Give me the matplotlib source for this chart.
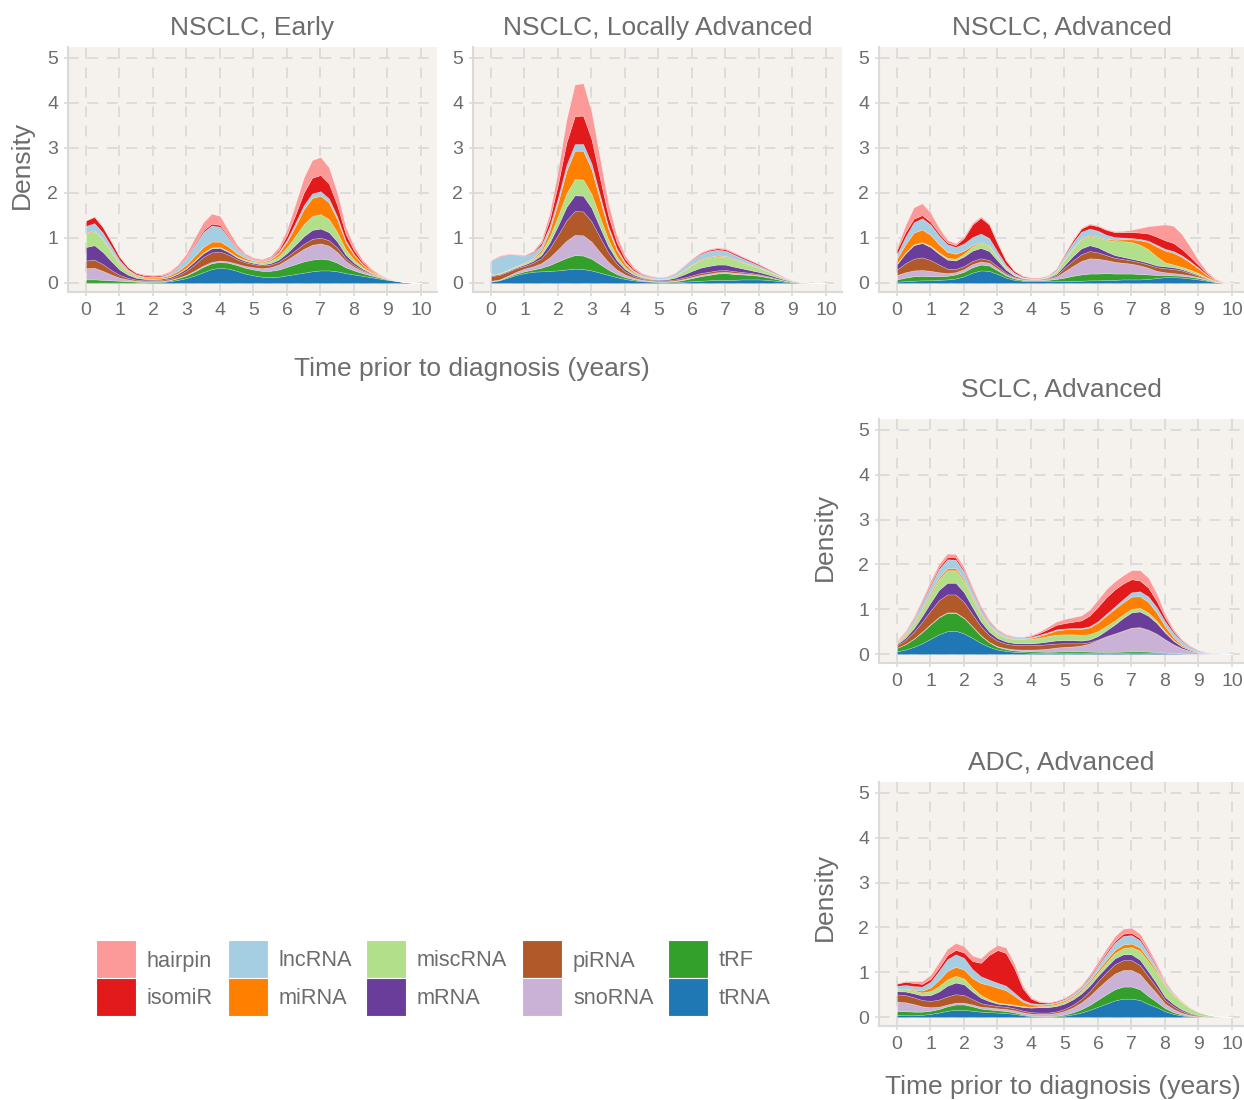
import numpy as np
import matplotlib.pyplot as plt
from matplotlib.patches import Rectangle

# RNA biotypes (legend order) and their fills
categories = ["hairpin", "isomiR", "lncRNA", "miRNA", "miscRNA",
              "mRNA", "piRNA", "snoRNA", "tRF", "tRNA"]
colors = ["#FB9A99", "#E31A1C", "#A6CEE3", "#FF7F00", "#B2DF8A",
          "#6A3D9A", "#B15928", "#CAB2D6", "#33A02C", "#1F78B4"]

# density every 0.25 years, 0..10
years = np.linspace(0, 10, 41)

early = {
    "tRNA":    [0.01,0.01,0.01,0.01,0.01,0.01,0.01,0.01,0.015,0.02,0.04,0.07,0.11,0.17,0.24,0.31,0.34,0.32,0.27,0.21,0.17,0.14,0.13,0.14,0.17,0.2,0.23,0.26,0.28,0.28,0.26,0.22,0.19,0.16,0.13,0.1,0.07,0.045,0.02,0.008,0.002],
    "tRF":     [0.07,0.07,0.06,0.05,0.04,0.03,0.02,0.015,0.015,0.015,0.02,0.04,0.06,0.09,0.12,0.13,0.13,0.13,0.13,0.13,0.13,0.13,0.14,0.16,0.19,0.22,0.25,0.26,0.26,0.24,0.19,0.13,0.09,0.06,0.04,0.025,0.012,0.005,0.002,0.001,0],
    "snoRNA":  [0.25,0.26,0.2,0.13,0.07,0.04,0.02,0.015,0.015,0.01,0.01,0.01,0.015,0.02,0.03,0.03,0.03,0.03,0.03,0.04,0.05,0.06,0.08,0.11,0.16,0.22,0.28,0.33,0.34,0.31,0.24,0.14,0.08,0.045,0.025,0.012,0.005,0.002,0.001,0,0],
    "piRNA":   [0.17,0.18,0.15,0.1,0.06,0.035,0.025,0.02,0.02,0.025,0.03,0.05,0.09,0.14,0.19,0.21,0.2,0.15,0.1,0.08,0.07,0.06,0.06,0.06,0.07,0.09,0.11,0.13,0.13,0.12,0.1,0.06,0.04,0.025,0.015,0.008,0.004,0.002,0.001,0,0],
    "mRNA":    [0.3,0.32,0.27,0.2,0.12,0.07,0.04,0.03,0.025,0.025,0.03,0.04,0.05,0.07,0.08,0.09,0.08,0.06,0.04,0.03,0.025,0.025,0.03,0.05,0.08,0.12,0.17,0.2,0.2,0.18,0.13,0.08,0.05,0.03,0.015,0.008,0.004,0.002,0.001,0,0],
    "miscRNA": [0.3,0.31,0.27,0.2,0.12,0.06,0.03,0.015,0.01,0.01,0.01,0.01,0.015,0.02,0.02,0.02,0.02,0.02,0.02,0.025,0.03,0.035,0.05,0.08,0.13,0.2,0.27,0.31,0.32,0.29,0.21,0.12,0.07,0.04,0.02,0.01,0.004,0.002,0.001,0,0],
    "miRNA":   [0.02,0.02,0.02,0.02,0.02,0.02,0.02,0.02,0.02,0.025,0.035,0.05,0.07,0.1,0.12,0.13,0.12,0.1,0.07,0.04,0.02,0.02,0.03,0.06,0.12,0.22,0.33,0.4,0.41,0.37,0.28,0.16,0.1,0.055,0.03,0.013,0.005,0.002,0.001,0,0],
    "lncRNA":  [0.15,0.16,0.14,0.11,0.07,0.04,0.025,0.02,0.015,0.02,0.04,0.08,0.15,0.24,0.33,0.36,0.33,0.2,0.1,0.05,0.03,0.02,0.02,0.03,0.05,0.07,0.09,0.1,0.1,0.09,0.07,0.04,0.025,0.012,0.006,0.003,0.002,0.001,0,0,0],
    "isomiR":  [0.12,0.14,0.12,0.1,0.07,0.045,0.03,0.025,0.025,0.02,0.015,0.015,0.02,0.03,0.04,0.04,0.04,0.03,0.02,0.01,0.01,0.01,0.015,0.04,0.1,0.18,0.28,0.35,0.36,0.33,0.25,0.14,0.08,0.04,0.02,0.008,0.003,0.001,0,0,0],
    "hairpin": [0.01,0.01,0.01,0.01,0.01,0.01,0.015,0.02,0.02,0.02,0.03,0.05,0.08,0.13,0.18,0.22,0.2,0.13,0.08,0.04,0.03,0.03,0.04,0.07,0.12,0.23,0.33,0.39,0.4,0.36,0.27,0.16,0.09,0.05,0.025,0.012,0.005,0.002,0.001,0,0],
}

local = {
    "tRNA":    [0.03,0.06,0.12,0.18,0.22,0.25,0.26,0.27,0.28,0.3,0.32,0.31,0.28,0.23,0.18,0.13,0.09,0.06,0.04,0.03,0.02,0.02,0.02,0.03,0.04,0.05,0.06,0.07,0.07,0.07,0.08,0.08,0.08,0.07,0.05,0.03,0.015,0.006,0.002,0.001,0],
    "tRF":     [0.01,0.01,0.02,0.03,0.04,0.05,0.08,0.13,0.2,0.26,0.3,0.3,0.26,0.19,0.12,0.07,0.04,0.025,0.015,0.01,0.01,0.01,0.02,0.04,0.07,0.1,0.12,0.14,0.15,0.13,0.11,0.1,0.08,0.06,0.04,0.02,0.01,0.004,0.001,0,0],
    "snoRNA":  [0.01,0.01,0.02,0.04,0.06,0.07,0.1,0.17,0.27,0.38,0.45,0.45,0.38,0.27,0.17,0.1,0.06,0.035,0.02,0.015,0.01,0.01,0.015,0.02,0.025,0.03,0.03,0.03,0.03,0.03,0.025,0.02,0.015,0.01,0.007,0.004,0.002,0.001,0,0,0],
    "piRNA":   [0.1,0.1,0.09,0.08,0.06,0.08,0.11,0.2,0.32,0.45,0.53,0.53,0.45,0.33,0.21,0.13,0.07,0.04,0.025,0.02,0.02,0.02,0.025,0.03,0.035,0.04,0.04,0.04,0.04,0.035,0.03,0.025,0.02,0.015,0.01,0.005,0.002,0.001,0,0,0],
    "mRNA":    [0.02,0.02,0.02,0.02,0.03,0.04,0.07,0.13,0.21,0.3,0.35,0.35,0.3,0.22,0.14,0.08,0.05,0.03,0.02,0.015,0.015,0.02,0.04,0.07,0.1,0.12,0.13,0.13,0.12,0.1,0.08,0.06,0.05,0.04,0.03,0.02,0.01,0.004,0.002,0.001,0],
    "miscRNA": [0.01,0.01,0.015,0.02,0.03,0.04,0.07,0.13,0.21,0.3,0.36,0.36,0.31,0.23,0.15,0.09,0.05,0.03,0.02,0.015,0.015,0.02,0.04,0.08,0.13,0.16,0.18,0.18,0.17,0.15,0.13,0.11,0.09,0.07,0.05,0.03,0.015,0.006,0.002,0.001,0],
    "miRNA":   [0.01,0.01,0.01,0.01,0.015,0.02,0.05,0.14,0.3,0.5,0.63,0.64,0.55,0.39,0.23,0.13,0.07,0.03,0.015,0.01,0.005,0.005,0.008,0.012,0.015,0.02,0.02,0.02,0.02,0.02,0.015,0.012,0.01,0.007,0.005,0.003,0.001,0,0,0,0],
    "lncRNA":  [0.3,0.37,0.33,0.24,0.15,0.12,0.1,0.1,0.11,0.13,0.15,0.15,0.13,0.1,0.07,0.05,0.035,0.03,0.03,0.03,0.03,0.035,0.05,0.08,0.1,0.12,0.13,0.13,0.12,0.1,0.08,0.06,0.045,0.03,0.02,0.01,0.005,0.002,0.001,0,0],
    "isomiR":  [0.01,0.01,0.01,0.01,0.01,0.02,0.05,0.14,0.3,0.5,0.62,0.63,0.54,0.38,0.23,0.13,0.07,0.035,0.015,0.01,0.005,0.005,0.008,0.012,0.015,0.02,0.025,0.03,0.03,0.03,0.03,0.03,0.025,0.02,0.015,0.008,0.003,0.001,0,0,0],
    "hairpin": [0.01,0.01,0.01,0.01,0.01,0.02,0.05,0.14,0.3,0.5,0.7,0.72,0.6,0.44,0.27,0.15,0.08,0.04,0.02,0.01,0.005,0.005,0.008,0.01,0.015,0.02,0.02,0.02,0.02,0.02,0.015,0.012,0.01,0.007,0.005,0.003,0.001,0,0,0,0],
}

advanced = {
    "tRNA":    [0.03,0.04,0.05,0.06,0.06,0.07,0.08,0.1,0.15,0.23,0.28,0.27,0.2,0.12,0.07,0.05,0.04,0.04,0.04,0.04,0.04,0.05,0.05,0.06,0.06,0.07,0.07,0.08,0.08,0.08,0.09,0.11,0.13,0.13,0.12,0.1,0.08,0.05,0.02,0.005,0],
    "tRF":     [0.05,0.08,0.1,0.1,0.09,0.08,0.08,0.09,0.1,0.12,0.13,0.12,0.08,0.05,0.03,0.02,0.02,0.02,0.03,0.05,0.08,0.11,0.14,0.15,0.15,0.15,0.14,0.13,0.13,0.12,0.1,0.07,0.05,0.04,0.04,0.04,0.03,0.02,0.008,0.002,0],
    "snoRNA":  [0.1,0.12,0.13,0.13,0.12,0.09,0.06,0.05,0.06,0.07,0.07,0.06,0.04,0.025,0.015,0.01,0.01,0.01,0.02,0.05,0.14,0.22,0.3,0.34,0.33,0.29,0.26,0.24,0.22,0.19,0.15,0.09,0.06,0.05,0.04,0.03,0.02,0.01,0.004,0.001,0],
    "piRNA":   [0.12,0.2,0.26,0.28,0.24,0.17,0.1,0.07,0.07,0.07,0.07,0.06,0.05,0.03,0.02,0.01,0.01,0.01,0.015,0.03,0.08,0.12,0.15,0.16,0.14,0.11,0.09,0.08,0.07,0.07,0.07,0.08,0.09,0.09,0.08,0.05,0.03,0.015,0.005,0.001,0],
    "mRNA":    [0.12,0.22,0.3,0.32,0.29,0.24,0.2,0.19,0.21,0.23,0.23,0.2,0.13,0.07,0.03,0.015,0.01,0.01,0.015,0.03,0.06,0.1,0.13,0.13,0.11,0.08,0.06,0.05,0.04,0.04,0.04,0.04,0.04,0.04,0.03,0.025,0.02,0.01,0.004,0.001,0],
    "miscRNA": [0.02,0.02,0.02,0.02,0.03,0.03,0.04,0.04,0.06,0.09,0.11,0.1,0.07,0.04,0.02,0.01,0.01,0.01,0.02,0.05,0.12,0.16,0.2,0.2,0.22,0.26,0.31,0.35,0.37,0.35,0.3,0.2,0.09,0.06,0.05,0.05,0.04,0.02,0.008,0.002,0],
    "miRNA":   [0.1,0.18,0.26,0.28,0.24,0.18,0.13,0.11,0.07,0.03,0.02,0.02,0.015,0.01,0.01,0.005,0.005,0.005,0.005,0.01,0.015,0.02,0.02,0.02,0.02,0.02,0.03,0.04,0.06,0.1,0.16,0.22,0.26,0.26,0.22,0.16,0.1,0.05,0.02,0.005,0],
    "lncRNA":  [0.1,0.17,0.23,0.25,0.23,0.2,0.17,0.15,0.16,0.18,0.19,0.17,0.11,0.06,0.03,0.015,0.005,0.005,0.01,0.03,0.08,0.12,0.15,0.15,0.13,0.09,0.06,0.04,0.03,0.03,0.03,0.04,0.04,0.04,0.035,0.03,0.02,0.01,0.004,0.001,0],
    "isomiR":  [0.1,0.1,0.08,0.07,0.06,0.05,0.04,0.04,0.12,0.28,0.35,0.3,0.18,0.09,0.04,0.02,0.01,0.01,0.01,0.02,0.03,0.05,0.07,0.09,0.1,0.11,0.11,0.12,0.13,0.14,0.16,0.18,0.19,0.18,0.14,0.1,0.06,0.03,0.01,0.003,0],
    "hairpin": [0.05,0.15,0.25,0.26,0.2,0.12,0.06,0.04,0.04,0.04,0.03,0.03,0.03,0.02,0.015,0.01,0.005,0.005,0.005,0.01,0.01,0.015,0.02,0.02,0.02,0.02,0.02,0.03,0.05,0.1,0.16,0.25,0.35,0.38,0.33,0.22,0.1,0.04,0.01,0.003,0],
}

sclc = {
    "tRNA":    [0.06,0.1,0.16,0.24,0.34,0.44,0.51,0.52,0.46,0.36,0.25,0.16,0.1,0.07,0.05,0.04,0.03,0.025,0.02,0.02,0.02,0.02,0.02,0.02,0.02,0.02,0.02,0.025,0.03,0.03,0.03,0.025,0.02,0.015,0.01,0.005,0.002,0.001,0,0,0],
    "tRF":     [0.08,0.12,0.18,0.25,0.32,0.38,0.41,0.4,0.34,0.25,0.16,0.1,0.06,0.04,0.03,0.03,0.03,0.03,0.03,0.035,0.04,0.04,0.04,0.035,0.03,0.03,0.03,0.03,0.03,0.03,0.025,0.02,0.015,0.01,0.006,0.003,0.001,0,0,0,0],
    "snoRNA":  [0,0.005,0.005,0.01,0.01,0.01,0.01,0.01,0.01,0.01,0.01,0.01,0.015,0.02,0.025,0.03,0.04,0.05,0.07,0.09,0.1,0.11,0.13,0.18,0.26,0.34,0.4,0.46,0.52,0.53,0.48,0.4,0.29,0.19,0.11,0.06,0.03,0.012,0.005,0.002,0],
    "piRNA":   [0.05,0.09,0.15,0.22,0.3,0.37,0.4,0.4,0.35,0.27,0.2,0.15,0.12,0.1,0.1,0.1,0.1,0.1,0.1,0.09,0.08,0.07,0.05,0.03,0.015,0.01,0.01,0.01,0.01,0.01,0.01,0.01,0.005,0.003,0.002,0.001,0,0,0,0,0],
    "mRNA":    [0.03,0.05,0.08,0.13,0.18,0.23,0.26,0.26,0.22,0.16,0.11,0.08,0.06,0.05,0.04,0.04,0.04,0.05,0.06,0.07,0.07,0.07,0.06,0.06,0.08,0.13,0.2,0.28,0.34,0.35,0.31,0.24,0.15,0.08,0.04,0.02,0.008,0.003,0.001,0,0],
    "miscRNA": [0.03,0.06,0.1,0.14,0.19,0.24,0.28,0.28,0.25,0.2,0.15,0.12,0.1,0.09,0.09,0.09,0.1,0.11,0.12,0.13,0.13,0.13,0.13,0.12,0.11,0.1,0.09,0.08,0.08,0.08,0.07,0.05,0.03,0.015,0.008,0.004,0.002,0.001,0,0,0],
    "miRNA":   [0.01,0.02,0.03,0.035,0.04,0.045,0.045,0.045,0.04,0.035,0.03,0.02,0.015,0.01,0.01,0.01,0.02,0.04,0.06,0.09,0.11,0.12,0.13,0.15,0.19,0.23,0.26,0.27,0.27,0.26,0.24,0.18,0.11,0.06,0.03,0.015,0.006,0.002,0.001,0,0],
    "lncRNA":  [0.02,0.04,0.08,0.12,0.15,0.18,0.2,0.19,0.16,0.12,0.09,0.07,0.05,0.04,0.03,0.025,0.025,0.025,0.025,0.025,0.02,0.02,0.02,0.025,0.03,0.04,0.05,0.07,0.1,0.11,0.12,0.12,0.11,0.1,0.08,0.06,0.035,0.02,0.01,0.005,0.002],
    "isomiR":  [0.01,0.015,0.02,0.03,0.04,0.045,0.05,0.05,0.04,0.035,0.03,0.02,0.015,0.01,0.01,0.01,0.02,0.04,0.07,0.1,0.12,0.14,0.17,0.24,0.32,0.37,0.38,0.35,0.29,0.24,0.2,0.14,0.08,0.04,0.02,0.01,0.004,0.002,0.001,0,0],
    "hairpin": [0.01,0.02,0.03,0.045,0.06,0.07,0.075,0.075,0.065,0.05,0.04,0.03,0.02,0.015,0.01,0.01,0.015,0.03,0.05,0.07,0.09,0.1,0.11,0.13,0.16,0.18,0.18,0.18,0.2,0.23,0.22,0.17,0.08,0.04,0.02,0.01,0.004,0.002,0.001,0,0],
}

adc = {
    "tRNA":    [0.045,0.04,0.04,0.05,0.07,0.1,0.14,0.16,0.16,0.14,0.12,0.11,0.1,0.09,0.07,0.04,0.02,0.01,0.01,0.015,0.03,0.06,0.1,0.16,0.23,0.3,0.37,0.41,0.41,0.38,0.29,0.22,0.13,0.07,0.035,0.015,0.006,0.002,0.001,0,0],
    "tRF":     [0.09,0.09,0.08,0.07,0.07,0.08,0.1,0.12,0.12,0.1,0.07,0.06,0.05,0.045,0.035,0.02,0.01,0.01,0.01,0.015,0.025,0.045,0.075,0.11,0.16,0.21,0.25,0.27,0.27,0.24,0.18,0.12,0.07,0.04,0.02,0.01,0.004,0.001,0,0,0],
    "snoRNA":  [0.21,0.2,0.17,0.12,0.08,0.05,0.04,0.04,0.04,0.04,0.04,0.045,0.045,0.045,0.045,0.045,0.045,0.05,0.05,0.06,0.08,0.11,0.15,0.2,0.26,0.31,0.35,0.37,0.37,0.34,0.27,0.19,0.1,0.07,0.04,0.02,0.01,0.004,0.001,0,0],
    "piRNA":   [0.16,0.16,0.15,0.14,0.14,0.16,0.18,0.19,0.17,0.12,0.08,0.06,0.05,0.05,0.045,0.04,0.035,0.03,0.03,0.035,0.045,0.06,0.08,0.11,0.15,0.18,0.21,0.22,0.22,0.2,0.17,0.13,0.08,0.06,0.04,0.025,0.015,0.008,0.003,0.001,0],
    "mRNA":    [0.07,0.08,0.09,0.1,0.13,0.18,0.24,0.26,0.24,0.17,0.12,0.08,0.055,0.05,0.06,0.08,0.1,0.12,0.12,0.12,0.12,0.12,0.12,0.12,0.12,0.12,0.13,0.13,0.13,0.12,0.11,0.09,0.07,0.05,0.035,0.02,0.01,0.005,0.002,0.001,0],
    "miscRNA": [0.04,0.05,0.06,0.07,0.09,0.12,0.14,0.15,0.13,0.09,0.06,0.04,0.025,0.02,0.02,0.02,0.02,0.025,0.03,0.035,0.04,0.05,0.06,0.07,0.08,0.1,0.12,0.14,0.16,0.2,0.22,0.25,0.24,0.2,0.16,0.11,0.07,0.04,0.018,0.006,0.002],
    "miRNA":   [0.01,0.015,0.02,0.04,0.08,0.14,0.19,0.2,0.2,0.21,0.27,0.32,0.33,0.3,0.2,0.1,0.05,0.03,0.03,0.03,0.03,0.03,0.035,0.04,0.05,0.06,0.07,0.08,0.08,0.07,0.06,0.04,0.025,0.015,0.008,0.004,0.002,0.001,0,0,0],
    "lncRNA":  [0.07,0.08,0.08,0.09,0.13,0.2,0.26,0.28,0.26,0.2,0.15,0.12,0.11,0.1,0.07,0.04,0.03,0.02,0.02,0.025,0.03,0.04,0.05,0.07,0.1,0.13,0.16,0.19,0.19,0.16,0.12,0.07,0.035,0.02,0.01,0.005,0.002,0.001,0,0,0],
    "isomiR":  [0.05,0.07,0.07,0.06,0.06,0.07,0.09,0.1,0.12,0.18,0.3,0.55,0.73,0.73,0.55,0.26,0.1,0.04,0.02,0.02,0.02,0.02,0.02,0.03,0.03,0.04,0.04,0.05,0.05,0.05,0.04,0.03,0.02,0.01,0.006,0.003,0.001,0,0,0,0],
    "hairpin": [0.01,0.02,0.04,0.06,0.09,0.12,0.14,0.15,0.14,0.12,0.1,0.1,0.11,0.12,0.1,0.06,0.03,0.02,0.01,0.01,0.01,0.015,0.02,0.04,0.06,0.08,0.1,0.11,0.11,0.1,0.08,0.05,0.03,0.015,0.007,0.003,0.001,0,0,0,0],
}

W, H = 1244, 1100
grey_txt = "#6d6d6d"
grey_line = "#dadada"
panel_bg = "#f5f1ec"

plt.rcParams["font.family"] = ["Liberation Sans", "DejaVu Sans"]

fig = plt.figure(figsize=(W / 100, H / 100), dpi=100)


def px_rect(l, t, r, b):
    return [l / W, 1 - b / H, (r - l) / W, (b - t) / H]


def draw_panel(box, title, data, title_pad=9):
    ax = fig.add_axes(px_rect(*box))
    ax.set_facecolor(panel_bg)
    order = categories[::-1]  # tRNA at the bottom of the stack
    ax.stackplot(years, [data[c] for c in order], colors=colors[::-1],
                 edgecolor=(1, 1, 1, 0.35), linewidth=0.4)
    width_px = box[2] - box[0]
    ax.set_xlim(-0.537, -0.537 + width_px / 33.5)
    ax.set_ylim(-0.2, 5.244)
    ax.set_xticks(range(11))
    ax.set_yticks(range(6))
    ax.grid(True, color="#dcdcdc", linewidth=1.4, linestyle=(0, (5.5, 4.5)))
    ax.set_axisbelow(True)
    for s in ["top", "right"]:
        ax.spines[s].set_visible(False)
    for s in ["left", "bottom"]:
        ax.spines[s].set_color(grey_line)
        ax.spines[s].set_linewidth(1.5)
    ax.tick_params(colors=grey_line, labelcolor=grey_txt, labelsize=14,
                   length=3, width=1.2, pad=4)
    ax.set_title(title, fontsize=19, color=grey_txt, pad=title_pad)
    return ax


draw_panel((68, 47, 437, 292), "NSCLC, Early", early)
draw_panel((473, 47, 842, 292), "NSCLC, Locally Advanced", local)
draw_panel((879, 47, 1244, 292), "NSCLC, Advanced", advanced)
draw_panel((879, 419, 1244, 663), "SCLC, Advanced", sclc, title_pad=16)
draw_panel((879, 782, 1244, 1026), "ADC, Advanced", adc)

xlab = "Time prior to diagnosis (years)"
fig.text(472 / W, 1 - 369 / H, xlab, fontsize=19, color=grey_txt,
         ha="center", va="center")
fig.text(1063 / W, 1 - 1087 / H, xlab, fontsize=19, color=grey_txt,
         ha="center", va="center")
for x, y in [(22, 165), (825, 537), (825, 897)]:
    fig.text(x / W, 1 - y / H, "Density", fontsize=19, color=grey_txt,
             rotation=90, ha="center", va="center")

# legend: 5 columns x 2 rows of big square keys that touch each other
key_cols = [96, 228, 366, 522, 668]   # left edge of each key column, px
key_rows = [940, 978]                 # top edge of each key row, px
key_w, key_h = 40, 38
for i, (name, col) in enumerate(zip(categories, colors)):
    x0 = key_cols[i // 2]
    y0 = key_rows[i % 2]
    fig.add_artist(Rectangle((x0 / W, 1 - (y0 + key_h) / H), key_w / W,
                             key_h / H, transform=fig.transFigure,
                             facecolor=col, edgecolor="white", linewidth=0.8))
    fig.text((x0 + key_w + 11) / W, 1 - (y0 + key_h / 2 + 2) / H, name,
             fontsize=15.7, color=grey_txt, ha="left", va="center")

fig.savefig("out.png", dpi=100)
